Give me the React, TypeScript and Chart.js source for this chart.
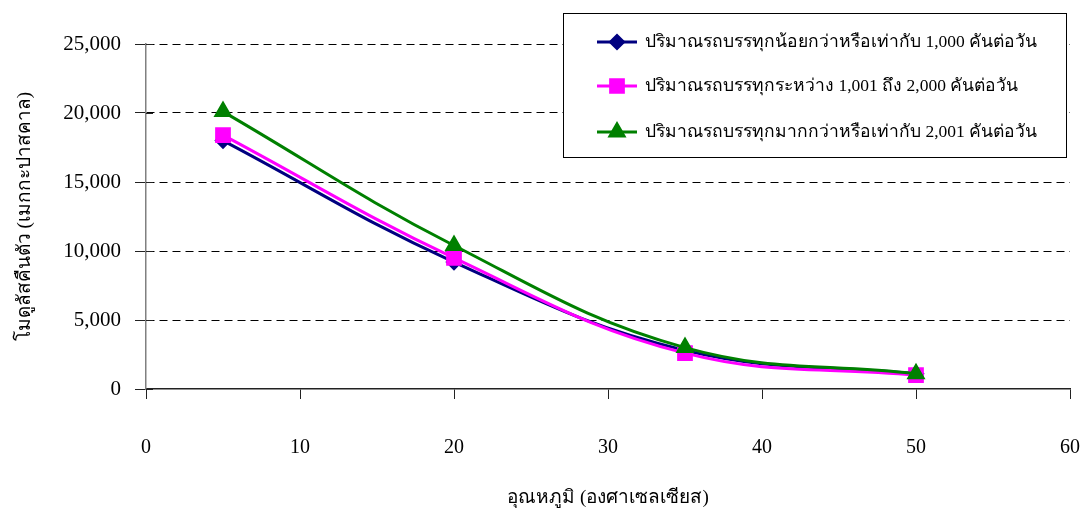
import React, { useEffect, useRef } from "react";
import { Chart, registerables } from "chart.js";
import { drawPoint } from "chart.js/helpers";

Chart.register(...registerables);

// Temperature (°C) at which the modulus was measured
const temperatures = [5, 20, 35, 50];

// Resilient modulus (MPa) per traffic level
const lowTraffic = [18000, 9200, 2800, 1100];
const midTraffic = [18400, 9500, 2600, 1000];
const highTraffic = [20100, 10400, 3000, 1100];

const seriesNames = [
  "ปริมาณรถบรรทุกน้อยกว่าหรือเท่ากับ 1,000 คันต่อวัน",
  "ปริมาณรถบรรทุกระหว่าง 1,001 ถึง 2,000 คันต่อวัน",
  "ปริมาณรถบรรทุกมากกว่าหรือเท่ากับ 2,001 คันต่อวัน",
];

const xTitle = "อุณหภูมิ (องศาเซลเซียส)";
const yTitle = "โมดูลัสคืนตัว (เมกกะปาสคาล)";

const FONT = "'Liberation Serif', 'Times New Roman', serif";

const toPoints = (ys: number[]) => temperatures.map((x, i) => ({ x, y: ys[i] }));

// Short tick stubs that cross the y axis into the plot area
const crossTicks = {
  id: "crossTicks",
  afterDatasetsDraw(chart: any) {
    const ctx = chart.ctx;
    const yScale = chart.scales.y;
    const x0 = chart.chartArea.left;
    ctx.save();
    ctx.strokeStyle = "#222222";
    ctx.lineWidth = 1;
    yScale.ticks.forEach((t: any) => {
      const y = Math.round(yScale.getPixelForValue(t.value)) + 0.5;
      ctx.beginPath();
      ctx.moveTo(x0, y);
      ctx.lineTo(x0 + 7, y);
      ctx.stroke();
    });
    ctx.restore();
  },
};

// Boxed legend drawn over the upper-right of the plot
const boxedLegend = {
  id: "boxedLegend",
  afterDraw(chart: any) {
    const ctx = chart.ctx;
    const left = 563, top = 13, right = 1066, bottom = 157;
    ctx.save();
    ctx.fillStyle = "#ffffff";
    ctx.fillRect(left, top, right - left, bottom - top);
    ctx.strokeStyle = "#000000";
    ctx.lineWidth = 1;
    ctx.strokeRect(left + 0.5, top + 0.5, right - left, bottom - top);
    const rows = [42, 86, 132];
    chart.data.datasets.forEach((ds: any, i: number) => {
      const y = rows[i];
      ctx.strokeStyle = ds.borderColor;
      ctx.lineWidth = 3;
      ctx.beginPath();
      ctx.moveTo(597, y);
      ctx.lineTo(637, y);
      ctx.stroke();
      ctx.fillStyle = ds.pointBackgroundColor;
      ctx.strokeStyle = ds.pointBorderColor;
      drawPoint(
        ctx,
        { pointStyle: ds.pointStyle, radius: ds.pointRadius, rotation: 0, borderWidth: 1 } as any,
        617,
        y
      );
      ctx.fillStyle = "#000000";
      ctx.font = `17.5px ${FONT}`;
      ctx.textBaseline = "middle";
      ctx.textAlign = "left";
      ctx.fillText(ds.label, 645, y);
    });
    ctx.restore();
  },
};

export default function App() {
  const canvasRef = useRef<HTMLCanvasElement | null>(null);

  useEffect(() => {
    document.body.style.margin = "0";
    const canvas = canvasRef.current;
    if (!canvas) return;

    const chart = new Chart(canvas, {
      type: "line",
      data: {
        datasets: [
          {
            label: seriesNames[0],
            data: toPoints(lowTraffic),
            borderColor: "#000080",
            backgroundColor: "#000080",
            pointBackgroundColor: "#000080",
            pointBorderColor: "#000080",
            pointStyle: "rectRot",
            pointRadius: 6.5,
            borderWidth: 3,
            tension: 0.4,
            order: 2,
          },
          {
            label: seriesNames[1],
            data: toPoints(midTraffic),
            borderColor: "#ff00ff",
            backgroundColor: "#ff00ff",
            pointBackgroundColor: "#ff00ff",
            pointBorderColor: "#ff00ff",
            pointStyle: "rect",
            pointRadius: 9,
            borderWidth: 3,
            tension: 0.4,
            order: 1,
          },
          {
            label: seriesNames[2],
            data: toPoints(highTraffic),
            borderColor: "#008000",
            backgroundColor: "#008000",
            pointBackgroundColor: "#008000",
            pointBorderColor: "#008000",
            pointStyle: "triangle",
            pointRadius: 8,
            borderWidth: 3,
            tension: 0.4,
            order: 0,
          },
        ],
      },
      options: {
        responsive: false,
        animation: false,
        layout: { padding: { left: 0, right: 12, top: 44, bottom: 0 } },
        plugins: {
          legend: { display: false },
          tooltip: { enabled: false },
        },
        scales: {
          x: {
            type: "linear",
            min: 0,
            max: 60,
            ticks: {
              stepSize: 10,
              color: "#000000",
              padding: 37,
              maxRotation: 0,
              font: { family: FONT, size: 20 },
            },
            grid: {
              drawOnChartArea: false,
              drawTicks: true,
              tickLength: 10,
              tickColor: "#222222",
              tickWidth: 1,
            },
            border: { display: true, color: "#222222", width: 1.5 },
            title: {
              display: true,
              text: xTitle,
              color: "#000000",
              font: { family: FONT, size: 19 },
              padding: { top: 0, bottom: 2 },
            },
            afterFit: (scale: any) => {
              scale.height = 122;
              scale.paddingLeft = 0;
              scale.paddingRight = 0;
            },
          },
          y: {
            min: 0,
            max: 25000,
            ticks: {
              stepSize: 5000,
              color: "#000000",
              padding: 14,
              font: { family: FONT, size: 21 },
              callback: (v: any) => Number(v).toLocaleString("en-US"),
            },
            grid: {
              drawTicks: true,
              tickLength: 11,
              tickColor: "#222222",
              tickBorderDash: [],
              color: (c: any) => (c.tick && c.tick.value === 0 ? "rgba(0,0,0,0)" : "#000000"),
              lineWidth: 1,
            },
            border: { display: true, color: "#808080", width: 1.5, dash: [8, 5] },
            title: {
              display: true,
              text: yTitle,
              color: "#000000",
              font: { family: FONT, size: 19 },
              padding: { top: 14, bottom: 0 },
            },
            afterFit: (scale: any) => {
              scale.width = 146;
            },
          },
        },
      },
      plugins: [crossTicks, boxedLegend],
    });

    return () => chart.destroy();
  }, []);

  return <canvas ref={canvasRef} width={1082} height={511} style={{ display: "block" }} />;
}
